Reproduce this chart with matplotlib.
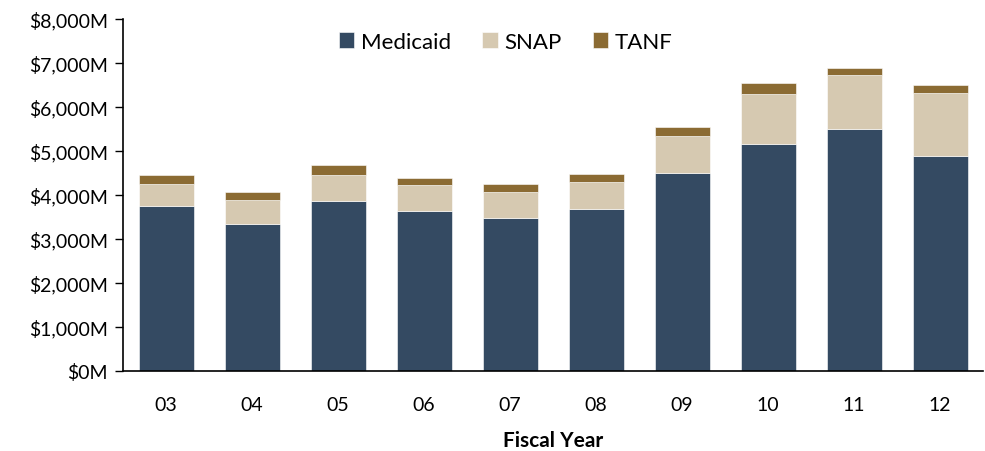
import matplotlib
matplotlib.use("Agg")
import matplotlib.pyplot as plt
import numpy as np
from matplotlib.ticker import FuncFormatter

years = ["03", "04", "05", "06", "07", "08", "09", "10", "11", "12"]
medicaid = [3740, 3340, 3865, 3645, 3485, 3680, 4500, 5150, 5490, 4895]
snap = [510, 545, 580, 585, 575, 605, 850, 1145, 1245, 1410]
tanf = [210, 175, 225, 150, 190, 190, 195, 245, 150, 190]

plt.rcParams['font.family'] = ['Lato', 'DejaVu Sans']

fig = plt.figure(figsize=(9.85, 4.52), dpi=100)
ax = fig.add_axes([0.125, 0.177, 0.873, 0.779])

x = np.arange(len(years))
w = 0.64
med = np.array(medicaid)
sn = np.array(snap)
ax.bar(x, med, w, color="#344a62", edgecolor="white", linewidth=0.4, label="Medicaid")
ax.bar(x, sn, w, bottom=med, color="#d6c9b1", edgecolor="white", linewidth=0.4, label="SNAP")
ax.bar(x, tanf, w, bottom=med + sn, color="#8b6b33", edgecolor="white", linewidth=0.4, label="TANF")

ax.set_xlim(-0.5, len(years) - 0.5)
ax.set_ylim(0, 8000)
ax.set_yticks(range(0, 8001, 1000))
ax.yaxis.set_major_formatter(FuncFormatter(lambda v, p: f"${v:,.0f}M"))
ax.set_xticks(x)
ax.set_xticklabels(years)
ax.tick_params(axis="x", length=0, pad=18, labelsize=14)
ax.tick_params(axis="y", length=6, width=1, labelsize=14, direction="out", pad=5)

for s in ["top", "right"]:
    ax.spines[s].set_visible(False)
ax.spines["left"].set_linewidth(1.2)
ax.spines["bottom"].set_linewidth(1.2)

ax.set_xlabel("Fiscal Year", fontsize=15, fontweight="bold", labelpad=12)

ax.legend(loc="upper center", bbox_to_anchor=(0.445, 1.02), ncol=3, frameon=False,
          fontsize=16, handlelength=0.7, handleheight=0.7, handletextpad=0.3,
          columnspacing=1.4)

fig.savefig("out.png", dpi=100)
